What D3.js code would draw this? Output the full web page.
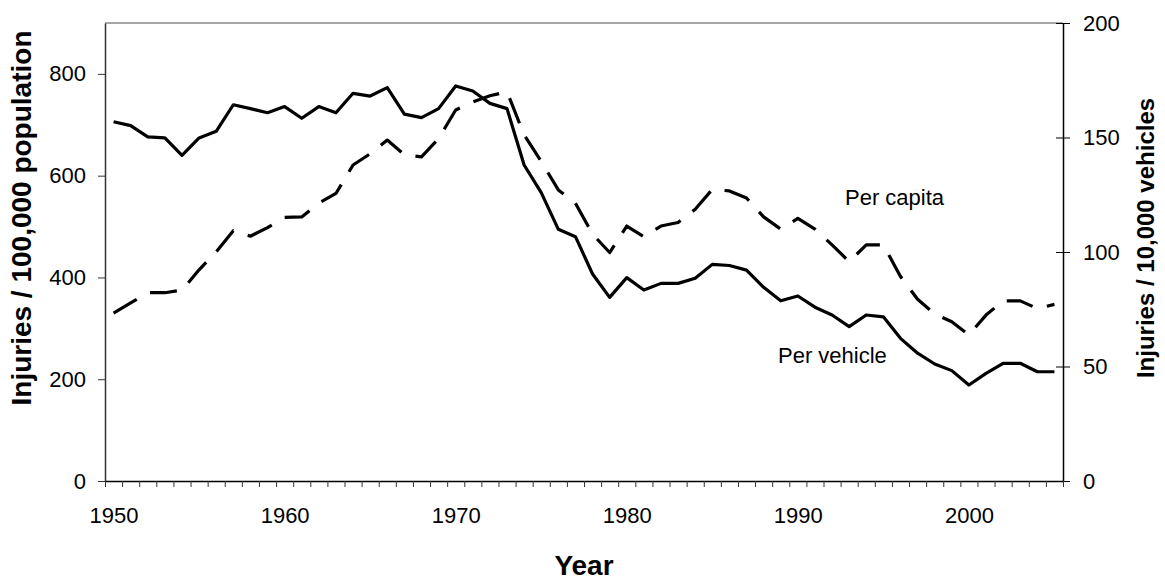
<!DOCTYPE html>
<html>
<head>
<meta charset="utf-8">
<script src="https://cdn.jsdelivr.net/npm/d3@7"></script>
<style>
  html, body { margin: 0; padding: 0; background: #fff; }
  svg { display: block; font-family: Arial, "Liberation Sans", sans-serif; }
</style>
</head>
<body>
<svg id="chart" width="1165" height="583"></svg>
<script>
const years = d3.range(1950, 2006);
// Injuries per 100,000 population (left axis)
const perCapita = [330, 350, 370, 370, 375, 415, 450, 492, 481, 498, 518, 519, 546, 565, 621, 643, 670, 641, 637, 673,
  729, 745, 757, 765, 680, 628, 572, 546, 485, 449, 501, 480, 501, 508, 534, 573, 570, 556, 519, 495,
  516, 495, 464, 431, 464, 464, 402, 357, 328, 313, 287, 326, 354, 354, 339, 347];
// Injuries per 10,000 vehicles (right axis)
const perVehicle = [156.9, 155.2, 150.3, 149.8, 142.2, 149.8, 152.7, 164.3, 162.6, 160.8, 163.5, 158.4, 163.5, 160.8, 169.3, 168.1, 171.8, 160.2, 158.7, 162.6,
  172.5, 170.3, 164.9, 162.6, 138.0, 125.9, 109.9, 106.7, 90.4, 80.2, 88.8, 83.4, 86.3, 86.3, 88.5, 94.6, 94.1, 92.1, 84.6, 78.7,
  80.8, 75.9, 72.5, 67.4, 72.5, 71.7, 62.3, 55.8, 51.1, 48.2, 41.9, 47.0, 51.4, 51.4, 47.7, 47.7];
const leftTicks = [0, 200, 400, 600, 800];
const rightTicks = [0, 50, 100, 150, 200];
const yearLabels = [1950, 1960, 1970, 1980, 1990, 2000];

const svg = d3.select("#chart");
const L = 105, R = 1063, T = 23, B = 481;

const x = d3.scaleLinear().domain([1949.5, 2005.5]).range([L, R]);
const yL = d3.scaleLinear().domain([0, 900]).range([B, T]);
const yR = d3.scaleLinear().domain([0, 200]).range([B, T]);

// top border
svg.append("line").attr("x1", L).attr("x2", R).attr("y1", T).attr("y2", T)
  .attr("stroke", "#8a8a8a").attr("stroke-width", 1.5);

// left axis
const gL = svg.append("g").attr("transform", `translate(${L},0)`)
  .call(d3.axisLeft(yL).tickValues(leftTicks).tickSize(7).tickPadding(12).tickSizeOuter(0));
gL.select(".domain").attr("stroke", "#333").attr("stroke-width", 1.5);
gL.selectAll(".tick line").attr("stroke", "#333");
gL.selectAll(".tick text").attr("font-size", 22).attr("fill", "#000").attr("font-family", "Arial, 'Liberation Sans', sans-serif");

// right axis (ticks cross the axis)
const gR = svg.append("g").attr("transform", `translate(${R},0)`)
  .call(d3.axisRight(yR).tickValues(rightTicks).tickSize(7).tickPadding(13).tickSizeOuter(0));
gR.select(".domain").attr("stroke", "#000").attr("stroke-width", 1.5);
gR.selectAll(".tick line").attr("x1", -7).attr("stroke", "#000");
gR.selectAll(".tick text").attr("font-size", 22).attr("fill", "#000").attr("font-family", "Arial, 'Liberation Sans', sans-serif");

// bottom axis: ticks at category edges
const edges = d3.range(1949.5, 2006, 1);
const gB = svg.append("g").attr("transform", `translate(0,${B})`)
  .call(d3.axisBottom(x).tickValues(edges).tickSize(6).tickFormat("").tickSizeOuter(0));
gB.select(".domain").attr("stroke", "#000").attr("stroke-width", 1.5);
gB.selectAll(".tick line").attr("stroke", "#333");
// labels at category centers
const gBL = svg.append("g").attr("transform", `translate(0,${B})`)
  .call(d3.axisBottom(x).tickValues(yearLabels).tickSize(0).tickPadding(26).tickFormat(d3.format("d")));
gBL.select(".domain").remove();
gBL.selectAll(".tick text").attr("font-size", 22).attr("fill", "#000").attr("font-family", "Arial, 'Liberation Sans', sans-serif");

// lines
const lineL = d3.line().x((d, i) => x(years[i])).y(d => yL(d));
const lineR = d3.line().x((d, i) => x(years[i])).y(d => yR(d));

svg.append("path").datum(perCapita).attr("d", lineL)
  .attr("fill", "none").attr("stroke", "#000").attr("stroke-width", 3.2)
  .attr("stroke-dasharray", "27,15").attr("stroke-linejoin", "round");
svg.append("path").datum(perVehicle).attr("d", lineR)
  .attr("fill", "none").attr("stroke", "#000").attr("stroke-width", 3.2)
  .attr("stroke-linejoin", "round");

// annotations
svg.append("text").attr("x", 845).attr("y", 205).attr("font-size", 22).text("Per capita");
svg.append("text").attr("x", 778).attr("y", 363).attr("font-size", 22).text("Per vehicle");

// titles
svg.append("text").attr("x", 584).attr("y", 575).attr("text-anchor", "middle")
  .attr("font-size", 28).attr("font-weight", "bold").text("Year");
svg.append("text").attr("transform", "translate(31,218) rotate(-90)").attr("text-anchor", "middle")
  .attr("font-size", 28).attr("font-weight", "bold").text("Injuries / 100,000 population");
svg.append("text").attr("transform", "translate(1154,238) rotate(-90)").attr("text-anchor", "middle")
  .attr("font-size", 24).attr("font-weight", "bold").text("Injuries / 10,000 vehicles");
</script>
</body>
</html>
